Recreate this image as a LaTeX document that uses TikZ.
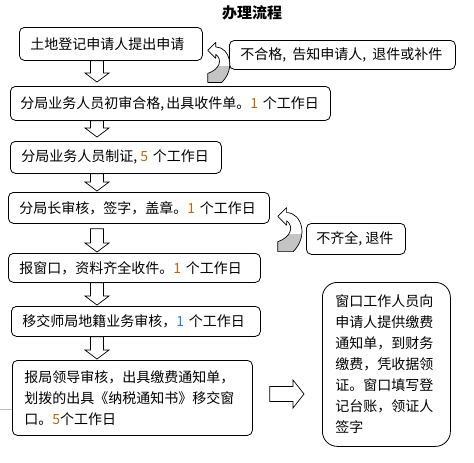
\documentclass[tikz,border=0pt]{standalone}
\usepackage{fontspec}
\setmainfont{Noto Sans CJK SC}
\usetikzlibrary{calc}
\definecolor{numor}{HTML}{C0650F}
\definecolor{numbl}{HTML}{2A7BD4}
\definecolor{curlgray}{HTML}{C4C4C4}
\newcommand\numo[1]{\textcolor{numor}{#1}}
\newcommand\numb[1]{\textcolor{numbl}{#1}}
\newcommand\hc[1]{\makebox[#1pt][l]{,}}
\newcommand\dnarrow[2]{\path[barrow] let \p1=#1, \p2=#2 in
  (\x1-6.5pt,\y1) -- (\x1-6.5pt,\y2+9pt) -- (\x1-12pt,\y2+9pt) -- (\x1,\y2)
  -- (\x1+12pt,\y2+9pt) -- (\x1+6.5pt,\y2+9pt) -- (\x1+6.5pt,\y1) -- cycle;}
\newcommand\rtarrow[2]{\path[barrow] let \p1=#1, \p2=#2 in
  (\x1,\y1+7.5pt) -- (\x2-11pt,\y1+7.5pt) -- (\x2-11pt,\y1+14pt) -- (\x2,\y2)
  -- (\x2-11pt,\y1-14pt) -- (\x2-11pt,\y1-7.5pt) -- (\x1,\y1-7.5pt) -- cycle;}
\newcommand\curlpath[1]{\path[#1] (0,0) -- (8,-8) -- (8,-3.5)
  .. controls (22,-3) and (28,18) .. (14,32) -- (0,32) -- (0,23)
  .. controls (12,19) and (15,9) .. (8,4) -- (8,8) -- cycle;}
\newcommand\curl{%
  \curlpath{fill=white}
  \begin{scope}\clip (-5,16) rectangle (40,40); \curlpath{fill=curlgray}\end{scope}
  \curlpath{draw=black, line width=0.7pt, line join=round}}
\begin{document}
\begin{tikzpicture}[x=1pt,y=-1pt,
  box/.style={draw=black, line width=0.8pt, rounded corners=5pt, anchor=north west,
    inner xsep=11pt, inner ysep=0pt, align=left,
    font=\fontsize{14pt}{21pt}\selectfont},
  barrow/.style={draw=black, line width=0.7pt, fill=white, line join=miter},
]
\useasboundingbox (0,0) rectangle (474,463);

\node[font=\bfseries\fontsize{15pt}{18pt}\selectfont] (title) at (252,13) {办理流程};

\node[box, minimum width=183pt, minimum height=33pt, text width=161pt] (b1) at (19,27) {\mbox{土地登记申请人提出申请}};
\node[box, minimum width=226pt, minimum height=29pt, text width=204pt] (r1) at (229,40) {\mbox{不合格\hc{10}告知申请人\hc{10}退件或补件}};
\node[box, minimum width=320pt, minimum height=34pt, text width=300pt, inner xsep=10pt] (b2) at (10,86) {\mbox{分局业务人员初审合格\hc{6}出具收件单。\numo{1} 个工作日}};
\node[box, minimum width=211pt, minimum height=32pt, text width=189pt] (b3) at (10,141) {\mbox{分局业务人员制证\hc{7}\numo{5} 个工作日}};
\node[box, minimum width=261pt, minimum height=31pt, text width=239pt] (b4) at (8,192) {\mbox{分局长审核，签字，盖章。\numo{1} 个工作日}};
\node[box, minimum width=99pt, minimum height=31pt, text width=79pt, inner xsep=10pt] (r2) at (306,223) {\mbox{不齐全\hc{7}退件}};
\node[box, minimum width=252pt, minimum height=29pt, text width=230pt] (b5) at (8,253) {\mbox{报窗口，资料齐全收件。\numo{1} 个工作日}};
\node[box, minimum width=249pt, minimum height=30pt, text width=227pt] (b6) at (11,306) {\mbox{移交师局地籍业务审核，\numb{1} 个工作日}};
\node[box, minimum width=240pt, minimum height=75pt, text width=216pt, inner xsep=12pt] (b7) at (12,360) {报局领导审核，出具缴费通知单，\\划拨的出具《纳税通知书》移交窗\\口。\numo{5}个工作日};
\node[box, rounded corners=15pt, minimum width=128pt, minimum height=164pt, text width=102pt, inner xsep=13pt] (rb) at (322,282) {窗口工作人员向\\申请人提供缴费\\通知单，到财务\\缴费，凭收据领\\证。窗口填写登\\记台账，领证人\\签字};

\coordinate (ax) at (97,0);
\dnarrow{(b1.south -| ax)}{($(b2.north -| ax)+(0,-4)$)}
\dnarrow{(b2.south -| ax)}{($(b3.north -| ax)+(0,-4)$)}
\dnarrow{(b3.south -| ax)}{($(b4.north -| ax)+(0,-1)$)}
\dnarrow{($(b4.south -| ax)+(0,5)$)}{($(b5.north -| ax)+(0,-1)$)}
\dnarrow{(b5.south -| ax)}{($(b6.north -| ax)+(0,-1)$)}
\dnarrow{(b6.south -| ax)}{($(b7.north -| ax)+(0,-1)$)}

\coordinate (ay) at (0,394);
\rtarrow{($(b7.east |- ay)+(17,0)$)}{($(rb.west |- ay)+(-18,0)$)}

\begin{scope}[shift={($(b1.east)+(5,6.5)$)}]\curl\end{scope}
\begin{scope}[shift={($(b4.east)+(8,8.5)$)}, scale=1.1]\curl\end{scope}

\coordinate (stub) at (0,409);
\draw[gray!50, line width=0.6pt] (stub) -- (stub -| b7.west);
\end{tikzpicture}
\end{document}
